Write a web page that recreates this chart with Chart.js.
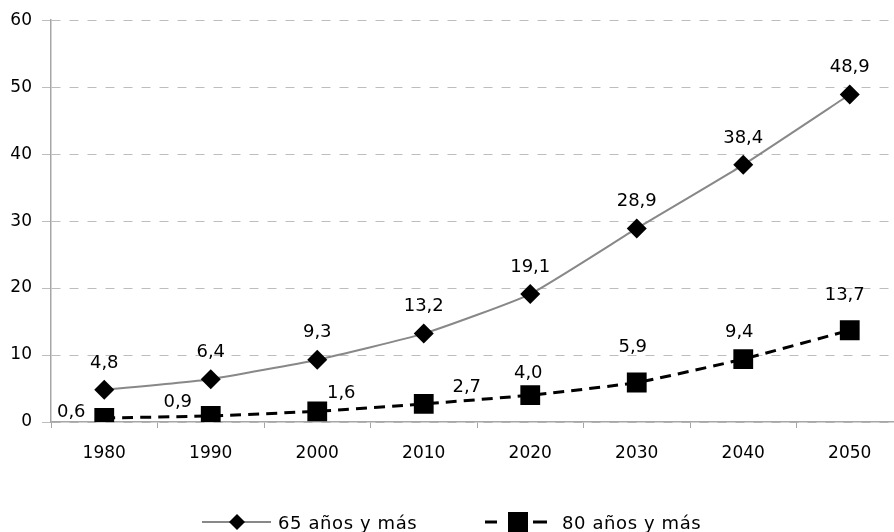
<!DOCTYPE html>
<html>
<head>
<meta charset="utf-8">
<script src="https://cdn.jsdelivr.net/npm/chart.js@4/dist/chart.umd.min.js"></script>
<style>
  html, body { margin: 0; padding: 0; background: #fff; overflow: hidden; width: 894px; height: 532px; }
  #wrap { width: 917px; height: 532px; }
</style>
</head>
<body>
<div id="wrap"><canvas id="chart" width="917" height="532" style="width:917px;height:532px"></canvas></div>
<script>
// Chart data
const years = ['1980', '1990', '2000', '2010', '2020', '2030', '2040', '2050'];
const mas65 = [4.8, 6.4, 9.3, 13.2, 19.1, 28.9, 38.4, 48.9];
const mas80 = [0.6, 0.9, 1.6, 2.7, 4.0, 5.9, 9.4, 13.7];
const seriesNames = ['65 años y más', '80 años y más'];

// Label offsets (px) from each point, per series
const offsets65 = years.map(() => [0, -27]);
const offsets80 = [[-33, -6], [-33, -14], [24, -18], [43, -17], [-2, -22], [-4, -35], [-4, -27], [-5, -35]];

const FONT = '"DejaVu Sans", sans-serif';
const fmt = v => v.toFixed(1).replace('.', ',');

// Draw value labels next to the points
const valueLabels = {
    id: 'valueLabels',
    afterDatasetsDraw(chart) {
        const ctx = chart.ctx;
        const offs = [offsets65, offsets80];
        ctx.save();
        ctx.font = '18px ' + FONT;
        ctx.fillStyle = '#000';
        ctx.textAlign = 'center';
        ctx.textBaseline = 'middle';
        chart.data.datasets.forEach((ds, di) => {
            const meta = chart.getDatasetMeta(di);
            meta.data.forEach((pt, i) => {
                const o = offs[di][i];
                ctx.fillText(fmt(ds.data[i]), pt.x + o[0], pt.y + o[1]);
            });
        });
        ctx.restore();
    }
};

// Legend with line + marker samples, Excel style
const bottomLegend = {
    id: 'bottomLegend',
    afterDraw(chart) {
        const ctx = chart.ctx;
        const y = 522;
        ctx.save();
        // 65 y más
        ctx.strokeStyle = '#888888';
        ctx.lineWidth = 2;
        ctx.beginPath();
        ctx.moveTo(202, y);
        ctx.lineTo(271, y);
        ctx.stroke();
        ctx.fillStyle = '#000';
        ctx.beginPath();
        ctx.moveTo(237, y - 8);
        ctx.lineTo(245, y);
        ctx.lineTo(237, y + 8);
        ctx.lineTo(229, y);
        ctx.closePath();
        ctx.fill();
        // 80 y más
        ctx.strokeStyle = '#000';
        ctx.lineWidth = 3;
        ctx.beginPath();
        ctx.moveTo(485, y);
        ctx.lineTo(497, y);
        ctx.moveTo(533, y);
        ctx.lineTo(547, y);
        ctx.stroke();
        ctx.fillRect(508, y - 10, 20, 20);
        // texts
        ctx.font = '18px ' + FONT;
        ctx.letterSpacing = '0.6px';
        ctx.textAlign = 'left';
        ctx.textBaseline = 'middle';
        ctx.fillText(seriesNames[0], 278, y + 2);
        ctx.fillText(seriesNames[1], 562, y + 2);
        ctx.restore();
    }
};

const ctx = document.getElementById('chart').getContext('2d');
new Chart(ctx, {
    type: 'line',
    data: {
        labels: years,
        datasets: [
            {
                label: seriesNames[0],
                data: mas65,
                borderColor: '#888888',
                borderWidth: 2,
                pointStyle: 'rectRot',
                pointRadius: 10,
                pointBackgroundColor: '#000',
                pointBorderColor: '#000',
                pointBorderWidth: 0,
                tension: 0.15,
                fill: false,
            },
            {
                label: seriesNames[1],
                data: mas80,
                borderColor: '#000',
                borderWidth: 3,
                borderDash: [11, 7],
                pointStyle: 'rect',
                pointRadius: 14,
                pointBackgroundColor: '#000',
                pointBorderColor: '#000',
                pointBorderWidth: 0,
                tension: 0.15,
                fill: false,
            },
        ],
    },
    options: {
        responsive: false,
        animation: false,
        layout: { padding: { top: 20, right: 0, bottom: 0, left: 0 } },
        plugins: {
            legend: { display: false },
            tooltip: { enabled: false }
        },
        scales: {
            x: {
                offset: true,
                afterFit: s => { s.height = 110; },
                grid: {
                    offset: true,
                    drawOnChartArea: false,
                    drawTicks: true,
                    tickLength: 6,
                    color: '#a6a6a6',
                },
                border: { display: true, color: '#a6a6a6', width: 1.5 },
                ticks: {
                    color: '#000',
                    padding: 15,
                    font: { family: FONT, size: 17 },
                    maxRotation: 0,
                },
            },
            y: {
                min: 0,
                max: 60,
                afterFit: s => { s.width = 51; },
                ticks: {
                    stepSize: 10,
                    color: '#000',
                    padding: 10,
                    font: { family: FONT, size: 17 },
                },
                grid: {
                    color: '#bdbdbd',
                    tickLength: 9,
                },
                border: { display: true, color: '#a6a6a6', width: 1.5, dash: [9, 9] },
            },
        },
    },
    plugins: [valueLabels, bottomLegend],
});
</script>
</body>
</html>
